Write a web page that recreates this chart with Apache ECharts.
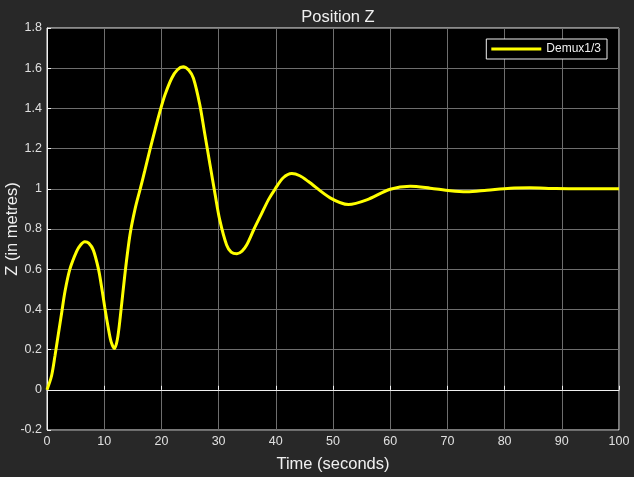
<!DOCTYPE html>
<html>
<head>
<meta charset="utf-8">
<script src="https://cdn.jsdelivr.net/npm/echarts@6/dist/echarts.min.js"></script>
<style>
html,body{margin:0;padding:0;background:#282828;}
#c{width:634px;height:477px;}
</style>
</head>
<body>
<div id="c"></div>
<script>
const titleText = 'Position Z';
const xName = 'Time (seconds)';
const yName = 'Z (in metres)';
const seriesName = 'Demux1/3';
const timeValues = [0, 0.8, 1.4, 2.0, 2.6, 3.15, 4.0, 5.2, 5.9, 6.6, 7.3, 8.1, 9.0, 9.55, 10.1, 10.7, 11.2, 11.8,
  12.3, 12.8, 13.6, 14.5, 15.4, 16.3, 17.1, 18.0, 18.9, 19.75, 20.6, 21.8, 22.8, 23.8, 24.8, 25.6, 26.7, 27.6,
  28.5, 29.4, 30.2, 31.4, 32.2, 33.2, 34.1, 34.9, 36.2, 37.5, 38.7, 39.9, 41.3, 42.8, 44.2, 45.7, 49.5, 52.7, 55.9, 60.0, 63.5,
  67, 70.5, 73.4, 76.9, 81, 84.4, 89, 94, 100];
const zValues = [0, 0.07, 0.17, 0.28, 0.39, 0.49, 0.60, 0.69, 0.722, 0.737, 0.73, 0.695, 0.60, 0.51, 0.41, 0.31, 0.24, 0.205,
  0.25, 0.36, 0.57, 0.77, 0.90, 1.0, 1.09, 1.195, 1.295, 1.385, 1.465, 1.55, 1.592, 1.607, 1.59, 1.55, 1.42, 1.27,
  1.12, 0.97, 0.845, 0.72, 0.685, 0.677, 0.69, 0.72, 0.80, 0.875, 0.945, 1.0, 1.055, 1.076, 1.065, 1.036, 0.955, 0.922, 0.945, 0.998, 1.013,
  1.003, 0.99, 0.985, 0.993, 1.003, 1.005, 1.001, 1.0, 1.0];
const xTicks = [0, 10, 20, 30, 40, 50, 60, 70, 80, 90, 100];
const yTicks = [-0.2, 0, 0.2, 0.4, 0.6, 0.8, 1, 1.2, 1.4, 1.6, 1.8];

const font = '"Liberation Sans", Arial, sans-serif';
const chart = echarts.init(document.getElementById('c'));
chart.setOption({
  backgroundColor: '#282828',
  animation: false,
  title: {
    text: titleText, left: 333, top: 4, textAlign: 'center',
    textStyle: {color: '#f0f0f0', fontSize: 16.5, fontWeight: 'normal', fontFamily: font}
  },
  legend: {
    data: [seriesName], right: 27, top: 39,
    backgroundColor: '#000', borderColor: '#f0f0f0', borderWidth: 1, borderRadius: 0,
    padding: [4, 6, 4, 5], itemWidth: 50, itemHeight: 3, icon: 'rect',
    textStyle: {color: '#f0f0f0', fontSize: 12, fontFamily: font}
  },
  grid: {
    left: 47, right: 15, top: 28, bottom: 47, show: true, containLabel: false,
    outerBoundsMode: 'none',
    backgroundColor: '#000', borderColor: '#f0f0f0', borderWidth: 1
  },
  xAxis: {
    type: 'value', min: xTicks[0], max: xTicks[xTicks.length - 1], interval: 10,
    name: xName, nameLocation: 'middle', nameGap: 26,
    nameTextStyle: {color: '#f0f0f0', fontSize: 16.5, fontFamily: font},
    axisLine: {lineStyle: {color: '#f0f0f0', width: 1}},
    axisTick: {inside: true, length: 4, lineStyle: {color: '#f0f0f0'}},
    axisLabel: {color: '#e0e0e0', fontSize: 12.5, fontFamily: font, margin: 5},
    splitLine: {lineStyle: {color: '#6e6e6e', width: 1}}
  },
  yAxis: {
    type: 'value', min: yTicks[0], max: yTicks[yTicks.length - 1], interval: 0.2,
    name: yName, nameLocation: 'middle', nameGap: 26, nameMoveOverlap: false,
    nameTextStyle: {color: '#f0f0f0', fontSize: 16.5, fontFamily: font},
    axisLine: {show: true, lineStyle: {color: '#f0f0f0', width: 1}},
    axisTick: {show: true, inside: true, length: 4, lineStyle: {color: '#f0f0f0'}},
    axisLabel: {color: '#e0e0e0', fontSize: 12.5, fontFamily: font, margin: 5,
      formatter: v => String(Math.round(v * 10) / 10)},
    splitLine: {lineStyle: {color: '#6e6e6e', width: 1}}
  },
  series: [{
    name: seriesName, type: 'line', smooth: 0.3, showSymbol: false,
    data: timeValues.map((t, i) => [t, zValues[i]]),
    lineStyle: {color: '#ffff00', width: 3}, itemStyle: {color: '#ffff00'}
  }]
});
</script>
</body>
</html>
